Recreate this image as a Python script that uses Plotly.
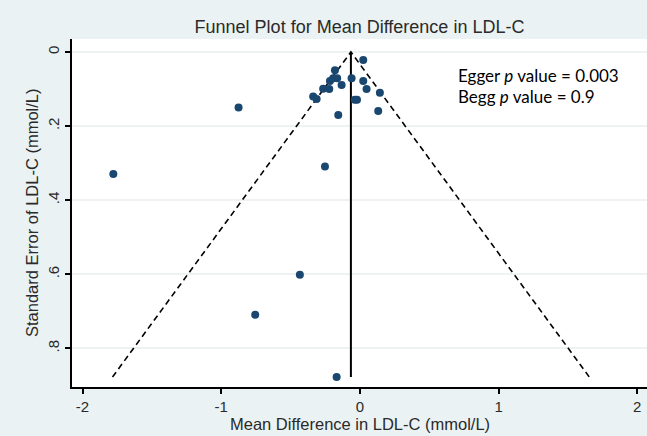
import plotly.graph_objects as go

# Study estimates (mean difference in LDL-C, mmol/L) and standard errors
md = [0.024, -0.180, -0.193, -0.164, -0.216, -0.132, -0.060, 0.024, -0.265, -0.221,
      0.048, 0.144, -0.337, -0.312, -0.037, -0.021, 0.132, -0.156, -0.875, -1.778,
      -0.252, -0.433, -0.755, -0.168]
se = [0.0215, 0.049, 0.071, 0.071, 0.078, 0.089, 0.071, 0.078, 0.099, 0.100,
      0.100, 0.110, 0.120, 0.127, 0.129, 0.129, 0.159, 0.170, 0.150, 0.329,
      0.309, 0.601, 0.709, 0.877]
pooled = -0.065
max_se = 0.877
z = 1.96

x_ticks = [-2, -1, 0, 1, 2]
x_tick_text = ["-2", "-1", "0", "1", "2"]
y_ticks = [0, 0.2, 0.4, 0.6, 0.8]
y_tick_text = ["0", ".2", ".4", ".6", ".8"]

title_text = "Funnel Plot for Mean Difference in LDL-C"
x_title = "Mean Difference in LDL-C (mmol/L)"
y_title = "Standard Error of LDL-C (mmol/L)"
notes = ["Egger <i>p</i> value = 0.003", "Begg <i>p</i> value = 0.9"]

navy = "#1a476f"
bg = "#eaf2f3"
txt = "#2a2a2a"

fig = go.Figure()
# pseudo 95% confidence limits
fig.add_trace(go.Scatter(
    x=[pooled - z * max_se, pooled, pooled + z * max_se],
    y=[max_se, 0, max_se],
    mode="lines", line=dict(color="black", width=1.6, dash="6px,4px"),
    hoverinfo="skip", showlegend=False))
# pooled estimate
fig.add_trace(go.Scatter(
    x=[pooled, pooled], y=[0, max_se],
    mode="lines", line=dict(color="black", width=2),
    hoverinfo="skip", showlegend=False))
# studies
fig.add_trace(go.Scatter(
    x=md, y=se, mode="markers",
    marker=dict(color=navy, size=8, line=dict(width=0)),
    showlegend=False))

fig.update_layout(
    width=647, height=436,
    margin=dict(l=72, r=0, t=39, b=49),
    paper_bgcolor=bg, plot_bgcolor="white",
    font=dict(family="Liberation Sans, Arial", size=15, color=txt),
    title=dict(text=title_text, x=0.5, xref="paper", xanchor="center",
               y=1 - 27 / 436, yref="container", yanchor="middle",
               font=dict(size=18, color=txt)),
    xaxis=dict(range=[-2.076, 2.07], tickvals=x_ticks, ticktext=x_tick_text,
               showgrid=False, zeroline=False, showline=True, linecolor="black",
               linewidth=1.5, ticks="outside", ticklen=5, tickwidth=1.5,
               tickcolor="black", tickfont=dict(size=15)),
    yaxis=dict(range=[0.904, -0.035], tickvals=y_ticks, ticktext=y_tick_text,
               showgrid=True, gridcolor="#eef2f2", gridwidth=1.5,
               zeroline=False, showline=True, linecolor="black",
               linewidth=1.5, ticks="outside", ticklen=5, tickwidth=1.5,
               tickcolor="black", tickangle=-90, tickfont=dict(size=15)),
    annotations=[
        dict(text=x_title, xref="paper", yref="paper", x=0.5,
             y=-(424 - 387) / 348, xanchor="center", yanchor="middle",
             showarrow=False, font=dict(size=16.5, color=txt)),
        dict(text=y_title, xref="paper", yref="paper", x=-(72 - 32) / 575,
             y=(387 - 213) / 348, xanchor="center", yanchor="middle",
             textangle=-90, showarrow=False, font=dict(size=16.5, color=txt)),
        dict(text=notes[0], xref="paper", yref="paper", x=(456 - 72) / 575,
             y=(387 - 75) / 348, xanchor="left", yanchor="middle",
             showarrow=False, font=dict(family="Lato, sans-serif", size=17, color="black")),
        dict(text=notes[1], xref="paper", yref="paper", x=(456 - 72) / 575,
             y=(387 - 97) / 348, xanchor="left", yanchor="middle",
             showarrow=False, font=dict(family="Lato, sans-serif", size=17, color="black")),
    ],
)

fig.write_html("out.html", config={"displayModeBar": False},
               post_script="document.body.style.margin='0';document.body.style.padding='0';")
